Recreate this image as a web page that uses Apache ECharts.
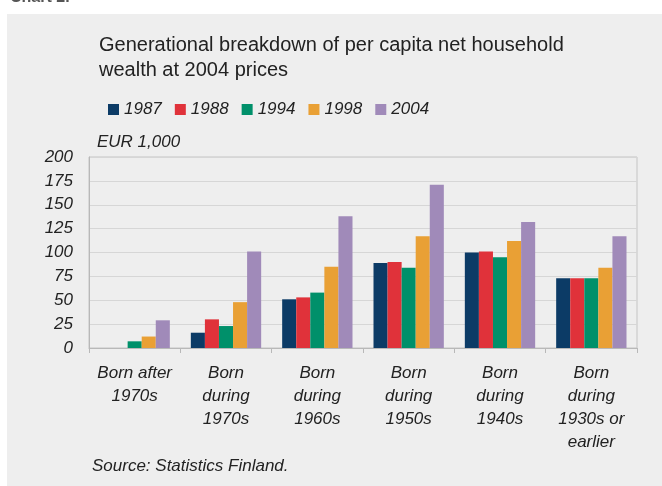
<!DOCTYPE html>
<html>
<head>
<meta charset="utf-8">
<script src="https://cdn.jsdelivr.net/npm/echarts@6/dist/echarts.min.js"></script>
<style>
html, body { margin: 0; padding: 0; background: #fff; }
#main { width: 662px; height: 486px; }
</style>
</head>
<body>
<div id="main"></div>
<script>
// 数据
var categories = ['Born after\n1970s', 'Born\nduring\n1970s', 'Born\nduring\n1960s', 'Born\nduring\n1950s', 'Born\nduring\n1940s', 'Born\nduring\n1930s or\nearlier'];
var years = ['1987', '1988', '1994', '1998', '2004'];
var colors = ['#0c3b66', '#e0323a', '#00906a', '#e9a035', '#a08ab9'];
var v1987 = [null, 16, 51, 89, 100, 73];
var v1988 = [null, 30, 53, 90, 101, 73];
var v1994 = [7, 23, 58, 84, 95, 73];
var v1998 = [12, 48, 85, 117, 112, 84];
var v2004 = [29, 101, 138, 171, 132, 117];
var yTicks = [0, 25, 50, 75, 100, 125, 150, 175, 200];

var font = 'Liberation Sans, Arial, sans-serif';
var values = [v1987, v1988, v1994, v1998, v2004];
var series = [];
for (var i = 0; i < years.length; i++) {
    series.push({
        name: years[i],
        type: 'bar',
        data: values[i],
        barGap: 0,
        barCategoryGap: '23%',
        itemStyle: {color: colors[i]}
    });
}

var myChart = echarts.init(document.getElementById('main'));
var option = {
    backgroundColor: '#ffffff',
    animation: false,
    color: colors,
    title: {
        text: 'Generational breakdown of per capita net household\nwealth at 2004 prices',
        left: 94,
        top: 28,
        textStyle: {
            fontFamily: font,
            fontSize: 20,
            fontWeight: 'normal',
            color: '#222',
            lineHeight: 25
        }
    },
    legend: {
        data: years,
        left: 103,
        top: 96,
        icon: 'rect',
        itemWidth: 11,
        itemHeight: 11,
        itemGap: 13,
        textStyle: {
            fontFamily: font,
            fontSize: 17,
            fontStyle: 'italic',
            color: '#222'
        }
    },
    graphic: [
        {
            type: 'rect', z: -10, silent: true,
            shape: {x: 7, y: 14, width: 660, height: 480},
            style: {fill: '#eeeeee'}
        },
        {
            type: 'text', left: 10, top: -10,
            style: {text: 'Chart 2.', font: 'bold 16px ' + font, fill: '#555'}
        },
        {
            type: 'text', left: 97, top: 134,
            style: {text: 'EUR 1,000', font: 'italic 17px ' + font, fill: '#222'}
        },
        {
            type: 'text', left: 92, top: 458,
            style: {text: 'Source: Statistics Finland.', font: 'italic 17px ' + font, fill: '#222'}
        }
    ],
    grid: {
        left: 89,
        right: 25,
        top: 157,
        bottom: 138,
        show: true,
        backgroundColor: 'transparent',
        borderColor: '#c4c4c4',
        borderWidth: 1
    },
    xAxis: {
        type: 'category',
        data: categories,
        axisLine: {lineStyle: {color: '#b8b8b8'}},
        axisTick: {show: true, length: 5, lineStyle: {color: '#b8b8b8'}},
        axisLabel: {
            interval: 0,
            margin: 14,
            fontFamily: font,
            fontSize: 17,
            fontStyle: 'italic',
            color: '#222',
            lineHeight: 23
        }
    },
    yAxis: {
        type: 'value',
        min: yTicks[0],
        max: yTicks[yTicks.length - 1],
        interval: 25,
        axisLine: {show: true, lineStyle: {color: '#b8b8b8'}},
        axisTick: {show: false},
        splitLine: {lineStyle: {color: '#d6d6d6'}},
        axisLabel: {
            margin: 16,
            fontFamily: font,
            fontSize: 17,
            fontStyle: 'italic',
            color: '#222'
        }
    },
    series: series
};
myChart.setOption(option);
</script>
</body>
</html>
